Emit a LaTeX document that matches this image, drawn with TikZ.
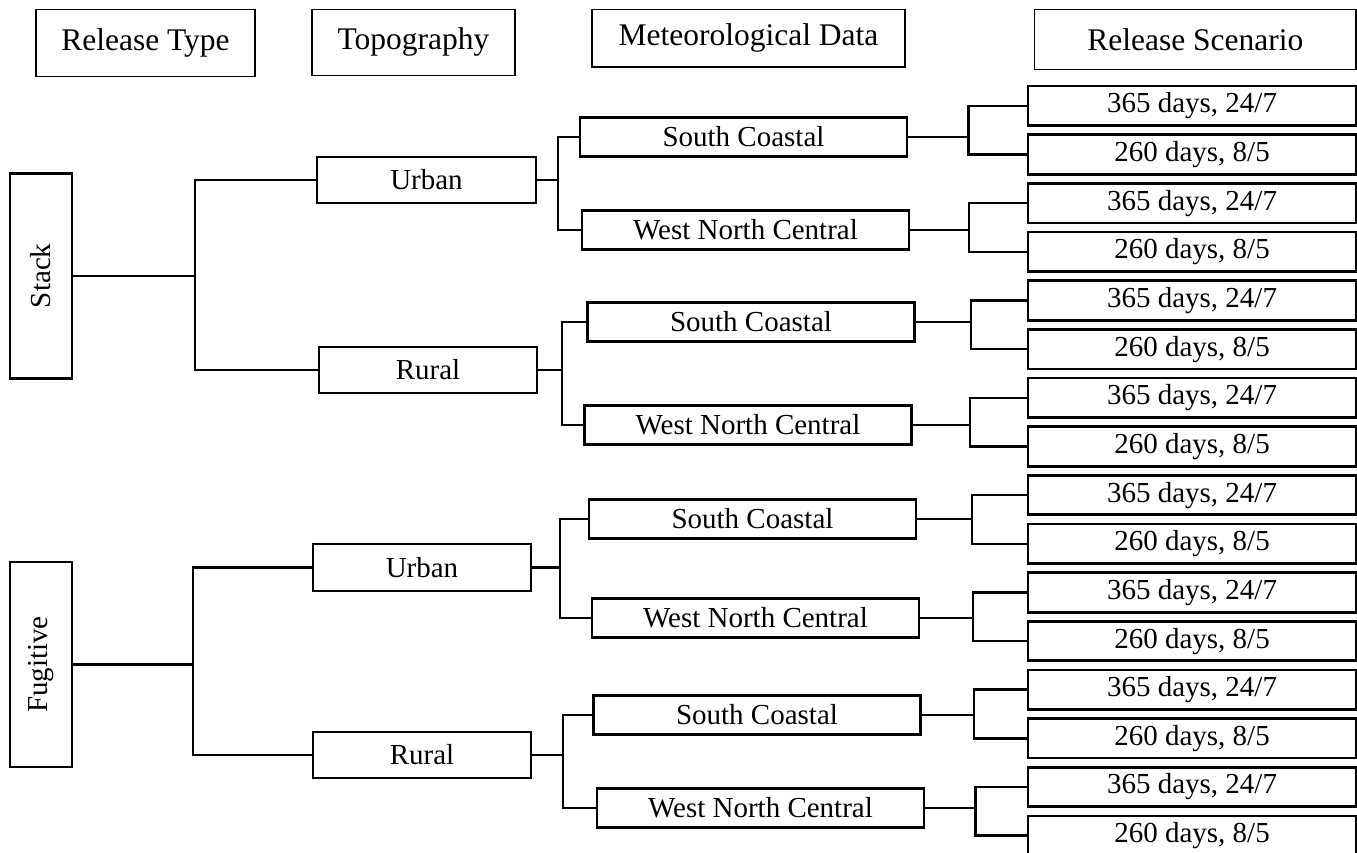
\documentclass[tikz,border=0pt]{standalone}
\usepackage{fontspec}
\usepackage{graphicx}
\setmainfont{Liberation Serif}
\begin{document}
\begin{tikzpicture}[x=1pt,y=-1pt,
  hdr/.style={draw, line width=1.3pt, inner sep=0pt, font=\fontsize{31.5}{36}\selectfont},
  bx/.style={draw, line width=2.7pt, inner sep=0pt, font=\fontsize{29}{34}\selectfont},
  wire/.style={line width=2.5pt},
  sz/.style 2 args={minimum width=#1pt, minimum height=#2pt}]
\useasboundingbox (0,0) rectangle (1357,852);
% headers
\node[hdr, sz={219}{67.4}] (h1) at (145.5,43) {Release Type};
\node[hdr, sz={203}{66}] (h2) at (413.5,42.3) {Topography};
\node[hdr, sz={313}{57.7}] (h3) at (748.5,38.2) {Meteorological Data};
\node[hdr, sz={321.3}{60}] (h4) at (1195.3,39.3) {Release Scenario};
% release types
\node[bx, sz={62}{205}] (s1) at (41,275.8) {\rotatebox{90}{Stack}};
\node[bx, sz={62}{205}] (s2) at (41,664.5) {\rotatebox{90}{Fugitive}};
% topography
\node[bx, sz={219}{46}] (t1) at (426.5,180) {Urban};
\node[bx, sz={218}{46}] (t2) at (428,370) {Rural};
\node[bx, sz={218}{47}] (t3) at (422,567.5) {Urban};
\node[bx, sz={218}{46}] (t4) at (422,755) {Rural};
% meteorological
\node[bx, sz={327}{39}] (m1) at (743.5,137) {South Coastal};
\node[bx, sz={327}{39}] (m2) at (745.5,230) {West North Central};
\node[bx, sz={327}{39}] (m3) at (751,322) {South Coastal};
\node[bx, sz={327}{39}] (m4) at (748,425) {West North Central};
\node[bx, sz={327}{39}] (m5) at (752.5,519) {South Coastal};
\node[bx, sz={327}{39}] (m6) at (755.5,618) {West North Central};
\node[bx, sz={327}{39}] (m7) at (757,715) {South Coastal};
\node[bx, sz={327}{39}] (m8) at (760.5,808) {West North Central};
% release scenarios
\foreach \k in {0,...,15}{
  \pgfmathsetmacro\yc{105.8+48.66*\k}
  \node[bx, sz={328}{39.5}] (r\k) at (1192,\yc) {\ifodd\k\relax 260 days, 8/5\else 365 days, 24/7\fi};
}
% connectors: release type -> topography
\coordinate (o1) at (195,0);
\coordinate (o2) at (193,0);
\draw[wire] (s1.east) -- (s1.east -| o1);
\draw[wire] (t1.west) -| (o1 |- s1.east);
\draw[wire] (t2.west) -| (o1 |- s1.east);
\draw[wire] (s2.east) -- (s2.east -| o2);
\draw[wire] (t3.west) -| (o2 |- s2.east);
\draw[wire] (t4.west) -| (o2 |- s2.east);
% topography -> meteorological
\foreach \t/\bxx/\ma/\mb in {1/558/1/2, 2/562/3/4, 3/560/5/6, 4/563/7/8}{
  \coordinate (p\t) at (\bxx,0);
  \draw[wire] (t\t.east) -- (t\t.east -| p\t);
  \draw[wire] (m\ma.west) -| (p\t |- t\t.east);
  \draw[wire] (m\mb.west) -| (p\t |- t\t.east);
}
% meteorological -> release scenario
\foreach \g/\bxx in {1/968.7, 2/969, 3/971, 4/970, 5/972, 6/973, 7/974, 8/975.5}{
  \pgfmathtruncatemacro\ka{2*\g-2}
  \pgfmathtruncatemacro\kb{2*\g-1}
  \coordinate (q\g) at (\bxx,0);
  \draw[wire] (m\g.east) -- (m\g.east -| q\g);
  \draw[wire] (r\ka.west) -| (q\g |- m\g.east);
  \draw[wire] (r\kb.west) -| (q\g |- m\g.east);
}
\end{tikzpicture}
\end{document}
